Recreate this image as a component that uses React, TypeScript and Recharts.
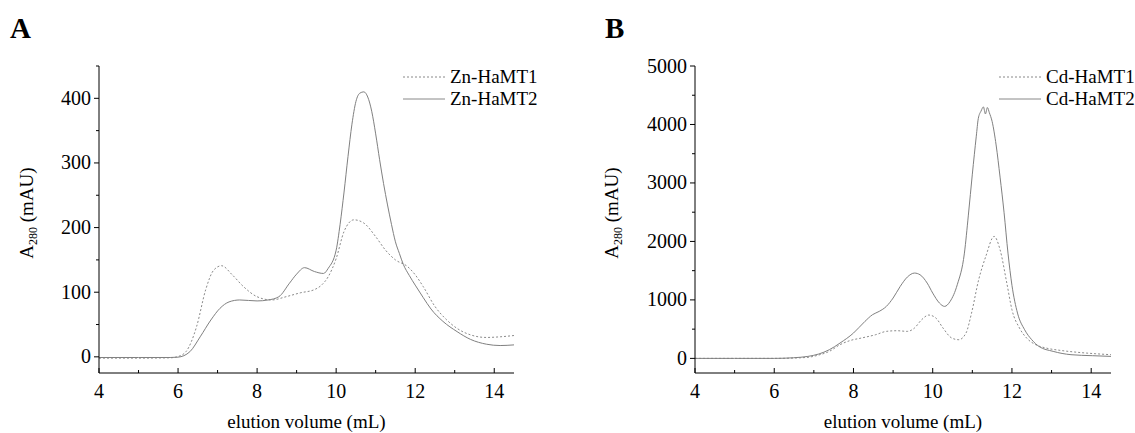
import React from 'react';
import { LineChart, Line, XAxis, YAxis, Legend, Label } from 'recharts';

const FONT = '"Liberation Serif", "Times New Roman", serif';

// elution volume (mL) / absorbance (mAU)
const znHaMT1X = [4, 5, 5.8, 6.0, 6.2, 6.47, 6.7, 6.9, 7.1, 7.37, 7.65, 8.0, 8.37, 8.73, 9.09, 9.45, 9.63, 9.8, 10.0, 10.2, 10.45, 10.7, 11.0, 11.25, 11.5, 11.8, 12.0, 12.2, 12.5, 12.8, 13.06, 13.4, 13.8, 14.15, 14.5];
const znHaMT1Y = [-2, -2, -1.5, 0.5, 8, 47, 104, 134, 141, 127, 109, 93, 88, 93, 99, 104, 111, 124, 152, 194, 212, 207, 186, 165, 150, 140, 127, 109, 78, 57, 44, 34, 30, 31, 33];

const znHaMT2X = [4, 5, 5.8, 6.0, 6.3, 6.56, 6.83, 7.06, 7.29, 7.56, 8.0, 8.28, 8.55, 8.82, 9.0, 9.2, 9.45, 9.68, 9.8, 10.0, 10.1, 10.2, 10.3, 10.4, 10.5, 10.6, 10.7, 10.8, 10.9, 11.0, 11.1, 11.2, 11.3, 11.4, 11.5, 11.6, 11.7, 11.85, 12.0, 12.2, 12.4, 12.7, 13.06, 13.4, 13.8, 14.15, 14.5];
const znHaMT2Y = [-1, -1, -1, -0.5, 8, 31, 57, 75, 85, 88, 86.5, 88, 93, 114, 128, 138, 132, 129, 137, 165, 205, 255, 310, 360, 395, 408, 410, 402, 380, 345, 305, 268, 235, 205, 178, 160, 143, 126, 111, 92, 74, 55, 39, 27, 19.6, 17.5, 18.5];

const cdHaMT1X = [4, 5, 6, 6.8, 7.12, 7.39, 7.66, 7.93, 8.2, 8.56, 8.83, 9.1, 9.36, 9.54, 9.72, 9.9, 10.08, 10.26, 10.48, 10.66, 10.84, 10.98, 11.16, 11.34, 11.55, 11.7, 11.87, 12.0, 12.19, 12.37, 12.6, 12.86, 13.22, 13.67, 14.1, 14.5];
const cdHaMT1Y = [0, 0, 0, 15, 57, 120, 234, 308, 348, 405, 462, 473, 462, 519, 661, 741, 690, 519, 348, 319, 433, 775, 1345, 1744, 2086, 1858, 1288, 832, 519, 348, 234, 177, 137, 103, 80, 63];

const cdHaMT2X = [4, 5, 6, 6.49, 6.85, 7.12, 7.39, 7.66, 8.0, 8.29, 8.48, 8.65, 8.83, 9.0, 9.18, 9.36, 9.54, 9.68, 9.86, 10.0, 10.17, 10.3, 10.44, 10.62, 10.8, 10.9, 11.0, 11.1, 11.15, 11.22, 11.28, 11.33, 11.38, 11.43, 11.5, 11.6, 11.7, 11.8, 11.9, 12.0, 12.14, 12.32, 12.5, 12.68, 13.04, 13.49, 14.03, 14.5];
const cdHaMT2Y = [0, 0, 0, 11, 34, 74, 148, 262, 433, 633, 747, 804, 889, 1032, 1231, 1391, 1459, 1430, 1288, 1117, 946, 889, 975, 1260, 1800, 2450, 3150, 3800, 4100, 4230, 4300, 4180, 4290, 4200, 4050, 3650, 3100, 2500, 1800, 1250, 775, 490, 319, 205, 120, 63, 46, 34];

const xTicks = [4, 5, 6, 7, 8, 9, 10, 11, 12, 13, 14];
const znTicks = [0, 50, 100, 150, 200, 250, 300, 350, 400, 450];
const cdTicks = [0, 500, 1000, 1500, 2000, 2500, 3000, 3500, 4000, 4500, 5000];

const zip = (xs: number[], ys: number[]) => xs.map((x, i) => ({ x, y: ys[i] }));

const XTick = ({ x, y, payload }: any) => {
  const major = payload.value % 2 === 0;
  return (
    <g>
      <line x1={x} x2={x} y1={y} y2={y - (major ? 5 : 3)} stroke="#000" />
      {major && (
        <text x={x} y={y + 25} textAnchor="middle" fontSize={20} fontFamily={FONT} fill="#000">
          {payload.value}
        </text>
      )}
    </g>
  );
};

const makeYTick = (step: number) => ({ x, y, payload }: any) => {
  const major = payload.value % step === 0;
  return (
    <g>
      <line x1={x} x2={x - (major ? 5 : 3)} y1={y} y2={y} stroke="#000" />
      {major && (
        <text x={x - 8} y={y + 6.5} textAnchor="end" fontSize={20} fontFamily={FONT} fill="#000">
          {payload.value}
        </text>
      )}
    </g>
  );
};

function Panel({ letter, letterX, names, a, b, domain, ticks, step, titleX, width, margin, legendLeft }: any) {
  const YTick = makeYTick(step);
  const legend = () => (
    <div style={{ fontFamily: FONT, fontSize: 19, color: '#000', lineHeight: '22px' }}>
      {names.map((n: string, i: number) => (
        <div key={n} style={{ display: 'flex', alignItems: 'center', whiteSpace: 'nowrap' }}>
          <svg width={47} height={22}>
            <line x1={0} x2={42} y1={11} y2={11} stroke="#888" strokeDasharray={i === 0 ? '2 2' : undefined} />
          </svg>
          <span>{n}</span>
        </div>
      ))}
    </div>
  );
  return (
    <LineChart width={width} height={433} margin={margin}>
      <XAxis
        type="number"
        dataKey="x"
        domain={[4, 14.5]}
        ticks={xTicks}
        interval={0}
        height={1}
        tickSize={0}
        tickMargin={0}
        tickLine={false}
        tick={<XTick />}
        axisLine={{ stroke: '#000' }}
      >
        <Label
          content={({ viewBox }: any) => (
            <text x={viewBox.x + viewBox.width / 2} y={428} textAnchor="middle" fontSize={19} fontFamily={FONT} fill="#000">
              elution volume (mL)
            </text>
          )}
        />
      </XAxis>
      <YAxis
        type="number"
        dataKey="y"
        domain={domain}
        ticks={ticks}
        interval={0}
        width={1}
        tickSize={0}
        tickMargin={0}
        tickLine={false}
        tick={<YTick />}
        axisLine={{ stroke: '#000' }}
      >
        <Label
          content={() => (
            <g>
              <text x={letterX} y={38} fontSize={29} fontWeight="bold" fontFamily={FONT} fill="#000">
                {letter}
              </text>
              <text
                x={titleX}
                y={213}
                transform={`rotate(-90, ${titleX}, 213)`}
                textAnchor="middle"
                fontSize={19}
                fontFamily={FONT}
                fill="#000"
              >
                A<tspan fontSize={12} dy={4}>280</tspan>
                <tspan dy={-4}> (mAU)</tspan>
              </text>
            </g>
          )}
        />
      </YAxis>
      <Legend
        layout="vertical"
        align="center"
        verticalAlign="middle"
        content={legend}
        wrapperStyle={{ left: legendLeft, top: 66, width: 180, height: 44 }}
      />
      <Line
        data={a}
        dataKey="y"
        type="monotone"
        stroke="#8a8a8a"
        strokeWidth={1}
        strokeDasharray="2 2"
        dot={false}
        isAnimationActive={false}
      />
      <Line data={b} dataKey="y" type="monotone" stroke="#808080" strokeWidth={1} dot={false} isAnimationActive={false} />
    </LineChart>
  );
}

export default function App() {
  return (
    <div style={{ position: 'absolute', left: 0, top: 0, width: 1135, height: 433, background: '#fff' }}>
      <div style={{ position: 'absolute', left: 0, top: 0 }}>
        <Panel
          letter="A"
          letterX={10}
          names={['Zn-HaMT1', 'Zn-HaMT2']}
          a={zip(znHaMT1X, znHaMT1Y)}
          b={zip(znHaMT2X, znHaMT2Y)}
          domain={[-25, 450]}
          ticks={znTicks}
          step={100}
          titleX={33}
          width={567}
          margin={{ top: 66, right: 53, bottom: 59, left: 98 }}
          legendLeft={403}
        />
      </div>
      <div style={{ position: 'absolute', left: 567, top: 0 }}>
        <Panel
          letter="B"
          letterX={38}
          names={['Cd-HaMT1', 'Cd-HaMT2']}
          a={zip(cdHaMT1X, cdHaMT1Y)}
          b={zip(cdHaMT2X, cdHaMT2Y)}
          domain={[-250, 5000]}
          ticks={cdTicks}
          step={1000}
          titleX={51}
          width={568}
          margin={{ top: 66, right: 24, bottom: 59, left: 127 }}
          legendLeft={432}
        />
      </div>
    </div>
  );
}
